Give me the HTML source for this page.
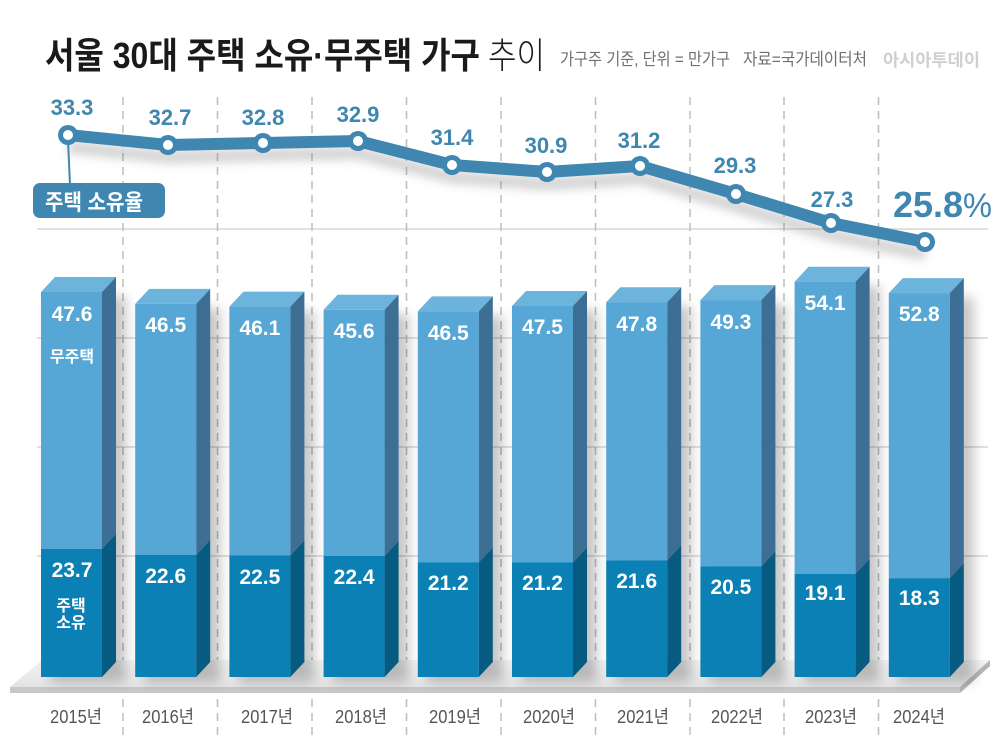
<!DOCTYPE html>
<html><head><meta charset="utf-8">
<style>
html,body{margin:0;padding:0;background:#fff;}
svg{display:block;}
text{font-family:"Liberation Sans","Noto Sans CJK KR",sans-serif;}
</style></head>
<body>
<svg width="1000" height="737" viewBox="0 0 1000 737" xmlns="http://www.w3.org/2000/svg">
<defs>
<filter id="blur6" x="-50%" y="-50%" width="200%" height="200%"><feGaussianBlur stdDeviation="6"/></filter>
<filter id="blur5" x="-20%" y="-50%" width="140%" height="200%"><feGaussianBlur stdDeviation="5"/></filter>
<linearGradient id="floorG" x1="0" y1="0" x2="0" y2="1">
<stop offset="0" stop-color="#f3f3f3"/><stop offset="1" stop-color="#e3e3e3"/>
</linearGradient>
</defs>
<rect width="1000" height="737" fill="#fff"/>

<!-- Title -->
<text x="45" y="68" font-size="36" font-weight="700" fill="#1a1a1a" textLength="435" lengthAdjust="spacingAndGlyphs">서울 30대 주택 소유·무주택 가구</text>
<text x="488" y="68" font-size="36" font-weight="300" fill="#1a1a1a" textLength="57" lengthAdjust="spacingAndGlyphs">추이</text>
<text x="560" y="65" font-size="17" fill="#707070" textLength="170" lengthAdjust="spacingAndGlyphs">가구주 기준, 단위 = 만가구</text>
<text x="743" y="65" font-size="17" fill="#707070" textLength="124" lengthAdjust="spacingAndGlyphs">자료=국가데이터처</text>
<text x="883" y="66" font-size="17" font-weight="700" fill="#cfcfcf" textLength="97" lengthAdjust="spacingAndGlyphs">아시아투데이</text>

<!-- horizontal grid -->
<g stroke="#d6d6d6" stroke-width="1.5">
<line x1="37" y1="229" x2="988" y2="229"/>
<line x1="37" y1="338" x2="988" y2="338"/>
<line x1="37" y1="447" x2="988" y2="447"/>
<line x1="37" y1="556" x2="988" y2="556"/>
<line x1="37" y1="665" x2="988" y2="665"/>
</g>
<!-- vertical dashed -->
<g stroke="#bdbdbd" stroke-width="1.5" stroke-dasharray="8 6">
<line x1="123" y1="97" x2="123" y2="737"/>
<line x1="217.5" y1="97" x2="217.5" y2="737"/>
<line x1="312" y1="97" x2="312" y2="737"/>
<line x1="406.5" y1="97" x2="406.5" y2="737"/>
<line x1="501" y1="97" x2="501" y2="737"/>
<line x1="595.5" y1="97" x2="595.5" y2="737"/>
<line x1="690" y1="97" x2="690" y2="737"/>
<line x1="784" y1="97" x2="784" y2="737"/>
<line x1="878.5" y1="97" x2="878.5" y2="737"/>
</g>

<!-- floor -->
<polygon points="42,660 990,660 960,687 10,687" fill="url(#floorG)"/>
<rect x="10" y="687" width="950" height="6" fill="#c8c8c8"/>
<polygon points="960,687 990,660 990,666 960,693" fill="#b5b5b5"/>

<!-- bar shadows -->
<g fill="#000" opacity="0.22" filter="url(#blur6)">
<rect x="50" y="296" width="76" height="386"/>
<rect x="144.2" y="308" width="76" height="374"/>
<rect x="238.4" y="311" width="76" height="371"/>
<rect x="332.6" y="314" width="76" height="368"/>
<rect x="426.8" y="315" width="76" height="367"/>
<rect x="521" y="310" width="76" height="372"/>
<rect x="615.2" y="306" width="76" height="376"/>
<rect x="709.4" y="304" width="76" height="378"/>
<rect x="803.6" y="286" width="76" height="396"/>
<rect x="897.8" y="297" width="76" height="385"/>
</g>

<!-- bars -->
<g id="bars">
<!-- i0 x0=41 T=292 B=549 -->
<polygon points="41,292 55,277 116,277 102,292" fill="#6db4dd"/>
<polygon points="102,292 116,277 116,534 102,549" fill="#3d6f94"/>
<polygon points="102,549 116,534 116,662 102,677" fill="#075a80"/>
<rect x="41" y="292" width="61" height="257" fill="#56a6d6"/>
<rect x="41" y="549" width="61" height="128" fill="#0a80b4"/>
<!-- i1 -->
<polygon points="135.2,303.9 149.2,288.9 210.2,288.9 196.2,303.9" fill="#6db4dd"/>
<polygon points="196.2,303.9 210.2,288.9 210.2,540 196.2,555" fill="#3d6f94"/>
<polygon points="196.2,555 210.2,540 210.2,662 196.2,677" fill="#075a80"/>
<rect x="135.2" y="303.9" width="61" height="251.1" fill="#56a6d6"/>
<rect x="135.2" y="555" width="61" height="122" fill="#0a80b4"/>
<!-- i2 -->
<polygon points="229.4,306.6 243.4,291.6 304.4,291.6 290.4,306.6" fill="#6db4dd"/>
<polygon points="290.4,306.6 304.4,291.6 304.4,540.5 290.4,555.5" fill="#3d6f94"/>
<polygon points="290.4,555.5 304.4,540.5 304.4,662 290.4,677" fill="#075a80"/>
<rect x="229.4" y="306.6" width="61" height="248.9" fill="#56a6d6"/>
<rect x="229.4" y="555.5" width="61" height="121.5" fill="#0a80b4"/>
<!-- i3 -->
<polygon points="323.6,309.8 337.6,294.8 398.6,294.8 384.6,309.8" fill="#6db4dd"/>
<polygon points="384.6,309.8 398.6,294.8 398.6,541 384.6,556" fill="#3d6f94"/>
<polygon points="384.6,556 398.6,541 398.6,662 384.6,677" fill="#075a80"/>
<rect x="323.6" y="309.8" width="61" height="246.2" fill="#56a6d6"/>
<rect x="323.6" y="556" width="61" height="121" fill="#0a80b4"/>
<!-- i4 -->
<polygon points="417.8,311.4 431.8,296.4 492.8,296.4 478.8,311.4" fill="#6db4dd"/>
<polygon points="478.8,311.4 492.8,296.4 492.8,547.5 478.8,562.5" fill="#3d6f94"/>
<polygon points="478.8,562.5 492.8,547.5 492.8,662 478.8,677" fill="#075a80"/>
<rect x="417.8" y="311.4" width="61" height="251.1" fill="#56a6d6"/>
<rect x="417.8" y="562.5" width="61" height="114.5" fill="#0a80b4"/>
<!-- i5 -->
<polygon points="512,306 526,291 587,291 573,306" fill="#6db4dd"/>
<polygon points="573,306 587,291 587,547.5 573,562.5" fill="#3d6f94"/>
<polygon points="573,562.5 587,547.5 587,662 573,677" fill="#075a80"/>
<rect x="512" y="306" width="61" height="256.5" fill="#56a6d6"/>
<rect x="512" y="562.5" width="61" height="114.5" fill="#0a80b4"/>
<!-- i6 -->
<polygon points="606.2,302.2 620.2,287.2 681.2,287.2 667.2,302.2" fill="#6db4dd"/>
<polygon points="667.2,302.2 681.2,287.2 681.2,545.4 667.2,560.4" fill="#3d6f94"/>
<polygon points="667.2,560.4 681.2,545.4 681.2,662 667.2,677" fill="#075a80"/>
<rect x="606.2" y="302.2" width="61" height="258.2" fill="#56a6d6"/>
<rect x="606.2" y="560.4" width="61" height="116.6" fill="#0a80b4"/>
<!-- i7 -->
<polygon points="700.4,300.1 714.4,285.1 775.4,285.1 761.4,300.1" fill="#6db4dd"/>
<polygon points="761.4,300.1 775.4,285.1 775.4,551.3 761.4,566.3" fill="#3d6f94"/>
<polygon points="761.4,566.3 775.4,551.3 775.4,662 761.4,677" fill="#075a80"/>
<rect x="700.4" y="300.1" width="61" height="266.2" fill="#56a6d6"/>
<rect x="700.4" y="566.3" width="61" height="110.7" fill="#0a80b4"/>
<!-- i8 -->
<polygon points="794.6,281.7 808.6,266.7 869.6,266.7 855.6,281.7" fill="#6db4dd"/>
<polygon points="855.6,281.7 869.6,266.7 869.6,558.9 855.6,573.9" fill="#3d6f94"/>
<polygon points="855.6,573.9 869.6,558.9 869.6,662 855.6,677" fill="#075a80"/>
<rect x="794.6" y="281.7" width="61" height="292.2" fill="#56a6d6"/>
<rect x="794.6" y="573.9" width="61" height="103.1" fill="#0a80b4"/>
<!-- i9 -->
<polygon points="888.8,293.1 902.8,278.1 963.8,278.1 949.8,293.1" fill="#6db4dd"/>
<polygon points="949.8,293.1 963.8,278.1 963.8,563.2 949.8,578.2" fill="#3d6f94"/>
<polygon points="949.8,578.2 963.8,563.2 963.8,662 949.8,677" fill="#075a80"/>
<rect x="888.8" y="293.1" width="61" height="285.1" fill="#56a6d6"/>
<rect x="888.8" y="578.2" width="61" height="98.8" fill="#0a80b4"/>
</g>

<!-- bar labels -->
<g font-size="21" font-weight="700" fill="#fff" text-anchor="middle">
<text x="72" y="321">47.6</text>
<text x="165.7" y="332">46.5</text>
<text x="259.9" y="335">46.1</text>
<text x="354.1" y="338">45.6</text>
<text x="448.3" y="340">46.5</text>
<text x="542.5" y="334">47.5</text>
<text x="636.7" y="331">47.8</text>
<text x="730.9" y="329">49.3</text>
<text x="825.1" y="310">54.1</text>
<text x="919.3" y="321">52.8</text>

<text x="72" y="577">23.7</text>
<text x="165.7" y="583">22.6</text>
<text x="259.9" y="584">22.5</text>
<text x="354.1" y="584">22.4</text>
<text x="448.3" y="590">21.2</text>
<text x="542.5" y="590">21.2</text>
<text x="636.7" y="588">21.6</text>
<text x="730.9" y="594">20.5</text>
<text x="825.1" y="600">19.1</text>
<text x="919.3" y="605">18.3</text>
</g>
<g font-size="16" font-weight="700" fill="#fff" text-anchor="middle">
<text x="72" y="362">무주택</text>
<text x="71" y="611">주택</text>
<text x="71" y="628">소유</text>
</g>

<!-- line shadow -->
<polyline points="68,147 168,157 263,155 358,153 452,177 547,184 640,178 736,206 831,235 925,254" fill="none" stroke="#777" stroke-opacity="0.35" stroke-width="12" stroke-linejoin="round" filter="url(#blur5)"/>
<!-- connector -->
<line x1="68" y1="140" x2="70" y2="185" stroke="#3f86b0" stroke-width="2"/>
<!-- label box -->
<rect x="33" y="183" width="132" height="35" rx="7" fill="#3f86b0"/>
<text x="45" y="210" font-size="22" font-weight="700" fill="#fff" textLength="98" lengthAdjust="spacingAndGlyphs">주택 소유율</text>

<!-- line -->
<polyline points="68,135 168,145 263,143 358,141 452,165 547,172 640,166 736,194 831,223 925,242" fill="none" stroke="#3f86b0" stroke-width="12" stroke-linejoin="round" stroke-linecap="round"/>
<g fill="#3f86b0">
<circle cx="68" cy="135" r="10"/><circle cx="168" cy="145" r="10"/><circle cx="263" cy="143" r="10"/>
<circle cx="358" cy="141" r="10"/><circle cx="452" cy="165" r="10"/><circle cx="547" cy="172" r="10"/>
<circle cx="640" cy="166" r="10"/><circle cx="736" cy="194" r="10"/><circle cx="831" cy="223" r="10"/>
<circle cx="925" cy="242" r="10"/>
</g>
<g fill="#fff">
<circle cx="68" cy="135" r="5"/><circle cx="168" cy="145" r="5"/><circle cx="263" cy="143" r="5"/>
<circle cx="358" cy="141" r="5"/><circle cx="452" cy="165" r="5"/><circle cx="547" cy="172" r="5"/>
<circle cx="640" cy="166" r="5"/><circle cx="736" cy="194" r="5"/><circle cx="831" cy="223" r="5"/>
<circle cx="925" cy="242" r="5"/>
</g>

<!-- line values -->
<g font-size="22" font-weight="700" fill="#3f86b0" text-anchor="middle">
<text x="72" y="115">33.3</text>
<text x="170" y="125">32.7</text>
<text x="263" y="125">32.8</text>
<text x="358" y="122">32.9</text>
<text x="452" y="145">31.4</text>
<text x="546" y="153">30.9</text>
<text x="639" y="148">31.2</text>
<text x="735" y="173">29.3</text>
<text x="832" y="207">27.3</text>
</g>
<text x="893" y="217" font-size="36" font-weight="700" fill="#3f86b0" textLength="70" lengthAdjust="spacingAndGlyphs">25.8</text>
<text x="963" y="217" font-size="34" font-weight="400" fill="#3f86b0" textLength="29" lengthAdjust="spacingAndGlyphs">%</text>

<!-- year labels -->
<g font-size="18" fill="#555" text-anchor="middle">
<text x="76" y="723" textLength="52" lengthAdjust="spacingAndGlyphs">2015년</text>
<text x="168" y="723" textLength="52" lengthAdjust="spacingAndGlyphs">2016년</text>
<text x="267" y="723" textLength="52" lengthAdjust="spacingAndGlyphs">2017년</text>
<text x="361" y="723" textLength="52" lengthAdjust="spacingAndGlyphs">2018년</text>
<text x="455" y="723" textLength="52" lengthAdjust="spacingAndGlyphs">2019년</text>
<text x="549" y="723" textLength="52" lengthAdjust="spacingAndGlyphs">2020년</text>
<text x="643" y="723" textLength="52" lengthAdjust="spacingAndGlyphs">2021년</text>
<text x="737" y="723" textLength="52" lengthAdjust="spacingAndGlyphs">2022년</text>
<text x="831" y="723" textLength="52" lengthAdjust="spacingAndGlyphs">2023년</text>
<text x="919" y="723" textLength="52" lengthAdjust="spacingAndGlyphs">2024년</text>
</g>
</svg>
</body></html>
